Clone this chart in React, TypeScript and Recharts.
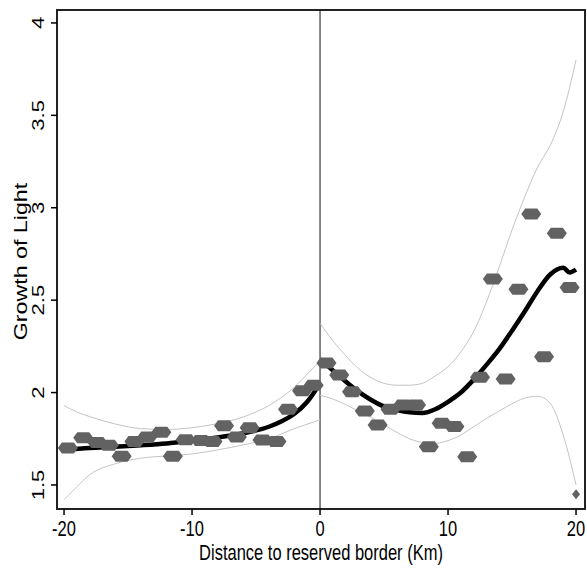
import React from 'react';
import {
  ComposedChart,
  Line,
  Scatter,
  XAxis,
  YAxis,
  ReferenceLine,
  ReferenceArea,
} from 'recharts';

// binned means, left of the border
const LEFT_X = [-19.7, -18.5, -17.4, -16.5, -15.5, -14.5, -13.5, -12.4, -11.5, -10.5, -9.3, -8.4, -7.5, -6.5, -5.5, -4.5, -3.4, -2.5, -1.4, -0.5];
const LEFT_Y = [1.7, 1.755, 1.73, 1.715, 1.655, 1.735, 1.76, 1.785, 1.655, 1.745, 1.74, 1.735, 1.82, 1.76, 1.81, 1.744, 1.735, 1.91, 2.01, 2.04];

// binned means, right of the border
const RIGHT_X = [0.5, 1.5, 2.5, 3.5, 4.5, 5.5, 6.5, 7.5, 8.5, 9.5, 10.5, 11.5, 12.5, 13.5, 14.5, 15.5, 16.5, 17.5, 18.5, 19.5];
const RIGHT_Y = [2.16, 2.095, 2.005, 1.9, 1.825, 1.91, 1.933, 1.933, 1.707, 1.834, 1.816, 1.653, 2.083, 2.615, 2.074, 2.559, 2.966, 2.194, 2.862, 2.568];

// last (partial) bin
const EDGE_X = [20];
const EDGE_Y = [1.45];

// local polynomial fit + confidence band, left side
const FIT_L_X = [-20, -18, -16, -14, -12, -10, -8, -6, -4, -3, -2, -1, 0];
const FIT_L_Y = [1.69, 1.7, 1.707, 1.715, 1.725, 1.74, 1.757, 1.78, 1.815, 1.845, 1.885, 1.95, 2.05];
const UP_L_X = [-20, -19, -18, -16, -14, -12, -10, -8, -6, -4, -2, -1, 0];
const UP_L_Y = [1.93, 1.895, 1.87, 1.83, 1.805, 1.8, 1.81, 1.832, 1.868, 1.93, 2.03, 2.1, 2.17];
const LO_L_X = [-20, -19, -18, -16, -14, -12, -10, -8, -6, -4, -2, 0];
const LO_L_Y = [1.42, 1.49, 1.555, 1.615, 1.645, 1.657, 1.668, 1.69, 1.717, 1.75, 1.805, 1.852];

// right side
const FIT_R_X = [0, 1, 2, 3, 4, 5, 6, 7, 8, 9, 10, 11, 12, 13, 14, 15, 16, 17, 18, 19, 19.5, 20];
const FIT_R_Y = [2.18, 2.12, 2.06, 2.005, 1.96, 1.925, 1.905, 1.893, 1.89, 1.91, 1.95, 2.0, 2.07, 2.15, 2.235, 2.335, 2.44, 2.55, 2.64, 2.675, 2.65, 2.665];
const BAND_R_X = [0, 1, 2, 3, 4, 5, 6, 7, 8, 9, 10, 11, 12, 13, 14, 15, 16, 17, 18, 19, 20];
const UP_R_Y = [2.375, 2.28, 2.2, 2.13, 2.08, 2.05, 2.04, 2.04, 2.05, 2.09, 2.14, 2.22, 2.33, 2.49, 2.68, 2.88, 3.06, 3.22, 3.34, 3.52, 3.8];
const LO_R_Y = [1.985, 1.965, 1.935, 1.9, 1.865, 1.825, 1.785, 1.75, 1.73, 1.725, 1.74, 1.77, 1.815, 1.86, 1.9, 1.94, 1.97, 1.98, 1.94, 1.77, 1.5];

const X_TICKS = [-20, -10, 0, 10, 20];
const Y_TICKS = [1.5, 2, 2.5, 3, 3.5, 4];

const zip = (xs: number[], ys: number[]) => xs.map((x, i) => ({ x, y: ys[i] }));

const FONT = 'Liberation Sans, Arial, sans-serif';
const SY = 1.3; // the original picture is stretched vertically

const Hex = (p: any) => {
  const { cx, cy } = p;
  const pts = [
    [cx - 10, cy], [cx - 6, cy - 5.5], [cx + 6, cy - 5.5],
    [cx + 10, cy], [cx + 6, cy + 5.5], [cx - 6, cy + 5.5],
  ].map((q) => q.join(',')).join(' ');
  return <polygon points={pts} fill="#626262" />;
};

const Diamond = (p: any) => {
  const { cx, cy } = p;
  const pts = [[cx, cy - 5], [cx + 4, cy], [cx, cy + 5], [cx - 4, cy]].map((q) => q.join(',')).join(' ');
  return <polygon points={pts} fill="#626262" />;
};

const XTick = ({ x, y, payload }: any) => (
  <text transform={`translate(${x},${y}) scale(1,${SY})`} y={14.6} textAnchor="middle"
    fontSize={16.5} fontFamily={FONT} fill="#000">
    {payload.value}
  </text>
);

const YTick = ({ x, y, payload }: any) => (
  <text transform={`translate(${x - 5.5},${y}) scale(1,${SY}) rotate(-90)`} textAnchor="middle"
    fontSize={17} fontFamily={FONT} fill="#000">
    {payload.value}
  </text>
);

const XTitle = ({ viewBox }: any) => (
  <text transform={`translate(${viewBox.x + viewBox.width / 2},${viewBox.y + 50.5}) scale(1,${SY})`}
    textAnchor="middle" fontSize={16.5} fontFamily={FONT} fill="#000">
    Distance to reserved border (Km)
  </text>
);

const YTitle = ({ viewBox }: any) => (
  <text transform={`translate(27,${viewBox.y + viewBox.height / 2 + 2}) scale(1,1.29) rotate(-90)`}
    textAnchor="middle" fontSize={18} fontFamily={FONT} fill="#000">
    Growth of Light
  </text>
);

const band = { stroke: '#c4c4c4', strokeWidth: 1, dot: false, type: 'monotone' as const, isAnimationActive: false };
const fit = { stroke: '#000', strokeWidth: 4.5, dot: false, type: 'monotone' as const, isAnimationActive: false };

export default function App() {
  return (
    <div style={{ position: 'absolute', left: 0, top: 0, background: '#fff' }}>
      <ComposedChart width={587} height={569} margin={{ top: 10, right: 2, bottom: 0, left: 0 }}>
        <XAxis
          type="number"
          dataKey="x"
          domain={[-20.55, 20.7]}
          allowDataOverflow
          ticks={X_TICKS}
          tick={<XTick />}
          tickSize={6}
          tickLine={{ stroke: '#000', strokeWidth: 1.5 }}
          axisLine={false}
          height={60}
          label={{ content: XTitle }}
        />
        <YAxis
          type="number"
          dataKey="y"
          domain={[1.37, 4.07]}
          allowDataOverflow
          ticks={Y_TICKS}
          tick={<YTick />}
          tickSize={6}
          tickLine={{ stroke: '#000', strokeWidth: 1.5 }}
          axisLine={false}
          width={57}
          label={{ content: YTitle }}
        />
        <ReferenceArea x1={-20.55} x2={20.7} y1={1.37} y2={4.07} fill="none" stroke="#222" strokeWidth={2} />
        <ReferenceLine x={0} stroke="#111" strokeWidth={1} />
        <Scatter data={zip(LEFT_X, LEFT_Y)} shape={Hex} isAnimationActive={false} />
        <Scatter data={zip(RIGHT_X, RIGHT_Y)} shape={Hex} isAnimationActive={false} />
        <Scatter data={zip(EDGE_X, EDGE_Y)} shape={Diamond} isAnimationActive={false} />
        <Line data={zip(UP_L_X, UP_L_Y)} dataKey="y" {...band} />
        <Line data={zip(LO_L_X, LO_L_Y)} dataKey="y" {...band} />
        <Line data={zip(BAND_R_X, UP_R_Y)} dataKey="y" {...band} />
        <Line data={zip(BAND_R_X, LO_R_Y)} dataKey="y" {...band} />
        <Line data={zip(FIT_L_X, FIT_L_Y)} dataKey="y" {...fit} />
        <Line data={zip(FIT_R_X, FIT_R_Y)} dataKey="y" {...fit} />
      </ComposedChart>
    </div>
  );
}
